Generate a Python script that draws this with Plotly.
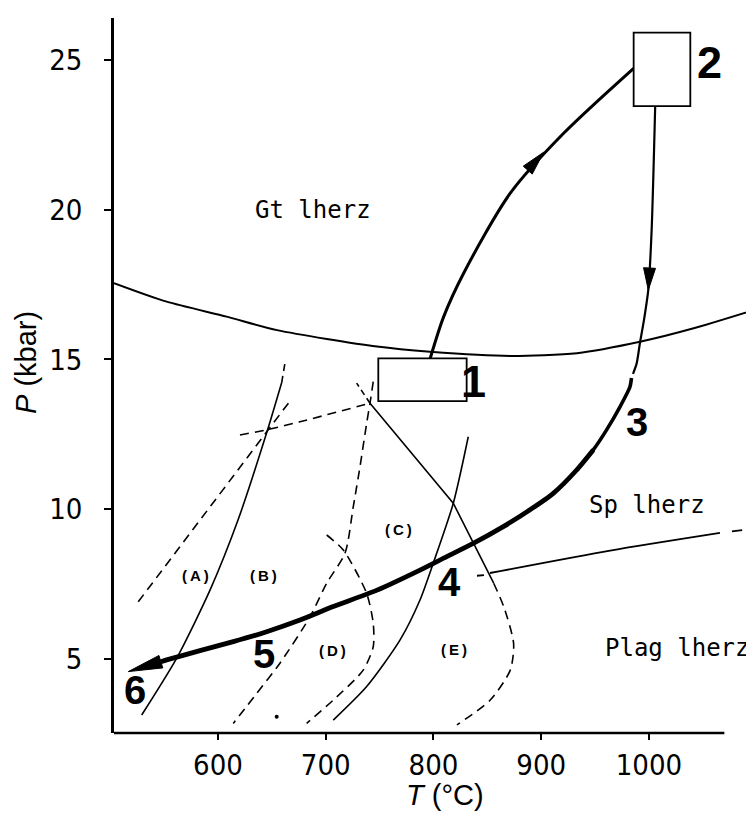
import plotly.graph_objects as go

# ---------------- data ----------------
# phase boundaries between lherzolite facies
gt_sp_T = [503.5, 552.4, 608.1, 654.8, 747.6, 796.8, 871.0, 933.2, 991.6, 1041.5, 1097.5]
gt_sp_P = [17.55, 16.93, 16.43, 15.98, 15.43, 15.26, 15.12, 15.21, 15.59, 16.04, 16.65]

sp_pl_T = [852.4, 964.0, 1065.9]
sp_pl_P = [7.87, 8.62, 9.21]
sp_pl_dash_left_T = [840.4, 846.9]
sp_pl_dash_left_P = [7.78, 7.80]
sp_pl_dash_right_T = [1077.0, 1086.5]
sp_pl_dash_right_P = [9.26, 9.30]

# reaction curves (solid = stable, dashed = other)
ab_solid_T = [529.2, 561.7, 592.6, 618.6, 645.2, 659.1]
ab_solid_P = [3.13, 5.03, 7.30, 9.64, 12.55, 14.22]
ab_ext_T = [659.1, 662.5]
ab_ext_P = [14.22, 14.95]

a_dash_T = [526.0, 583.3, 666.8]
a_dash_P = [6.91, 9.64, 13.61]

top_dash_T = [620.4, 645.2, 676.1, 741.1]
top_dash_P = [12.48, 12.65, 12.92, 13.54]

ce_solid_T = [741.1, 818.4, 855.9]
ce_solid_P = [13.54, 10.20, 7.53]
ce_ext_T = [741.1, 728.7]
ce_ext_P = [13.54, 14.21]

e_dash_T = [855.9, 865.2, 874.4, 871.3, 852.7, 821.8]
e_dash_P = [7.53, 6.75, 5.52, 4.63, 3.63, 2.80]

c_dash_T = [744.1, 741.1, 738.0, 731.8, 725.6, 717.9, 700.9, 685.4, 657.5, 635.9, 614.2]
c_dash_P = [14.26, 13.54, 12.87, 11.42, 10.09, 8.53, 7.53, 6.41, 4.86, 3.85, 2.85]

d_dash_T = [700.9, 716.3, 738.0, 744.1, 744.1, 734.8, 707.0, 682.3]
d_dash_P = [9.14, 8.64, 7.19, 6.19, 5.41, 4.63, 3.63, 2.85]

de_solid_T = [707.0, 738.0, 768.9, 787.5, 799.8, 818.4, 832.3]
de_solid_P = [2.96, 4.08, 5.63, 6.97, 8.20, 10.20, 12.42]

dot_T = [654.5]
dot_P = [3.07]

# P-T path 1 -> 2 -> 3 -> 4 -> 5 -> 6
path_up_T = [797.0, 809.5, 828.0, 871.3, 920.8, 985.8]
path_up_P = [15.04, 16.43, 17.88, 20.55, 22.55, 24.72]
path_down_T = [1005.8, 1002.5, 999.4, 995.4, 991.6, 988.6, 985.2]
path_down_P = [23.46, 19.32, 17.32, 16.32, 15.54, 14.87, 14.52]
path_main_T = [983.8, 982.4, 973.1, 960.7, 948.3, 932.9, 911.2, 889.6, 864.8, 836.9,
               812.3, 787.5, 747.6, 707.0, 676.1, 645.2, 614.2, 583.3, 552.4]
path_main_P = [14.38, 14.09, 13.42, 12.65, 11.98, 11.31, 10.53, 9.98, 9.42, 8.86,
               8.42, 7.97, 7.30, 6.75, 6.30, 5.91, 5.58, 5.28, 4.97]
path_end_tip = (516.8, 4.58)

# arrows along the path: (tip T, tip P, back T, back P)
arrow_up = (902.3, 21.92, 885.0, 21.22)
arrow_down = (999.4, 17.32, 1002.5, 19.32)

# boxes (T0, T1, P0, P1)
box1 = (748.8, 830.8, 13.61, 15.04)
box2 = (985.8, 1038.4, 23.46, 25.91)

# labels
stage_labels = ["1", "2", "3", "4", "5", "6"]
stage_T = [837.6, 1056.6, 988.9, 815.3, 642.7, 523.0]
stage_P = [14.25, 24.90, 12.91, 7.57, 5.17, 3.96]
stage_size = [45, 45, 40, 40, 40, 40]

field_labels = ["(A)", "(B)", "(C)", "(D)", "(E)"]
field_T = [579.1, 642.4, 767.3, 706.3, 819.0]
field_P = [7.80, 7.80, 9.31, 5.27, 5.33]

facies_labels = ["Gt lherz", "Sp lherz", "Plag lherz"]
facies_T = [688.2, 998.6, 1026.9]
facies_P = [20.0, 10.14, 5.37]

x_ticks = [600, 700, 800, 900, 1000]
y_ticks = [5, 10, 15, 20, 25]
x_range = [503.5, 1097.5]
y_range = [2.53, 26.40]
x_axis_end = 1070.0

# ---------------- figure ----------------
W, H = 754, 820
BODY = 8  # default page margin of the html body
ML, MR, MT, MB = 114 - BODY, BODY, 18 - BODY, 87 + BODY
sx = (W - ML - MR) / (x_range[1] - x_range[0])
sy = (H - MT - MB) / (y_range[1] - y_range[0])

fig = go.Figure()


def line(T, P, width=1.6, dash=None, shape="spline", smoothing=0.7):
    fig.add_trace(go.Scatter(
        x=T, y=P, mode="lines", hoverinfo="skip", showlegend=False,
        line=dict(color="black", width=width, dash=dash, shape=shape, smoothing=smoothing)))


def head(tipT, tipP, backT, backP, L, Wd):
    dx = (tipT - backT) * sx
    dy = (tipP - backP) * sy
    n = (dx * dx + dy * dy) ** 0.5
    ux, uy = dx / n, dy / n
    bx, by = -L * ux, -L * uy
    px, py = -uy * Wd, ux * Wd
    Ts = [tipT, tipT + (bx + px) / sx, tipT + (bx - px) / sx, tipT]
    Ps = [tipP, tipP + (by + py) / sy, tipP + (by - py) / sy, tipP]
    fig.add_trace(go.Scatter(x=Ts, y=Ps, mode="lines", fill="toself",
                             fillcolor="black", line=dict(color="black", width=1),
                             hoverinfo="skip", showlegend=False))
    return tipT + bx / sx, tipP + by / sy


DASH = "9px,6px"
line(gt_sp_T, gt_sp_P, 2.0)
line(sp_pl_T, sp_pl_P, 1.9)
line(sp_pl_dash_left_T, sp_pl_dash_left_P, 1.8, shape="linear")
line(sp_pl_dash_right_T, sp_pl_dash_right_P, 1.8, shape="linear")

line(ab_solid_T, ab_solid_P, 1.6)
line(ab_ext_T, ab_ext_P, 1.6, "7px,5px", "linear")
line(a_dash_T, a_dash_P, 1.6, DASH, "linear")
line(top_dash_T, top_dash_P, 1.6, DASH)
line(ce_solid_T, ce_solid_P, 1.6, shape="linear")
line(ce_ext_T, ce_ext_P, 1.6, "6px,4px", "linear")
line(e_dash_T, e_dash_P, 1.6, DASH)
line(c_dash_T, c_dash_P, 1.6, DASH)
line(d_dash_T, d_dash_P, 1.6, DASH)
line(de_solid_T, de_solid_P, 1.6)
fig.add_trace(go.Scatter(x=dot_T, y=dot_P, mode="markers", hoverinfo="skip", showlegend=False,
                         marker=dict(color="black", size=4)))

# path
line(path_up_T, path_up_P, 3.0, smoothing=0.8)
line(path_down_T, path_down_P, 2.2)
bT, bP = head(path_end_tip[0], path_end_tip[1], path_main_T[-1], path_main_P[-1], 34, 6.5)
line(path_main_T[:6], path_main_P[:6], 3.6, smoothing=0.6)
line(path_main_T[4:] + [bT], path_main_P[4:] + [bP], 4.8, smoothing=0.6)
head(*arrow_up, 24, 6)
head(*arrow_down, 22, 6)

for (t0, t1, p0, p1) in (box1, box2):
    fig.add_shape(type="rect", x0=t0, x1=t1, y0=p0, y1=p1, xref="x", yref="y",
                  line=dict(color="black", width=1.8), fillcolor="white", layer="above")

# x axis line (ends before the right edge)
fig.add_shape(type="line", xref="x", yref="paper", x0=x_range[0], x1=x_axis_end, y0=0, y1=0,
              line=dict(color="black", width=2.6))

ann = []
for s, t, p, fs in zip(stage_labels, stage_T, stage_P, stage_size):
    ann.append(dict(x=t, y=p, text="<b>" + s + "</b>", showarrow=False, xanchor="center",
                    yanchor="middle",
                    font=dict(family="Liberation Sans, Arial, sans-serif", size=fs, color="black"),
                    xref="x", yref="y"))
for s, t, p in zip(field_labels, field_T, field_P):
    txt = s[0] + "\u2009" + s[1] + "\u2009" + s[2]
    ann.append(dict(x=t, y=p, text="<b>" + txt + "</b>", showarrow=False,
                    font=dict(family="Liberation Sans, Arial, sans-serif", size=15, color="black"),
                    xref="x", yref="y"))
for s, t, p in zip(facies_labels, facies_T, facies_P):
    ann.append(dict(x=t, y=p, text=s, showarrow=False,
                    font=dict(family="DejaVu Sans Mono, monospace", size=24, color="black"),
                    xref="x", yref="y"))

ann.append(dict(x=-0.1375, y=0.5175, xref="paper", yref="paper", text="<i>P</i> (kbar)",
                showarrow=False, textangle=-90, xanchor="center", yanchor="middle",
                font=dict(family="Liberation Sans, Arial, sans-serif", size=29, color="black")))
ann.append(dict(x=0.517, y=-0.0867, xref="paper", yref="paper", text="<i>T</i> (°C)",
                showarrow=False, xanchor="center", yanchor="middle",
                font=dict(family="Liberation Sans, Arial, sans-serif", size=29, color="black")))

tickfont = dict(family="Liberation Sans Narrow, DejaVu Sans Condensed, Liberation Sans, sans-serif",
                size=29, color="black")
fig.update_layout(
    width=W, height=H, margin=dict(l=ML, r=MR, t=MT, b=MB, pad=0),
    paper_bgcolor="white", plot_bgcolor="white", showlegend=False,
    annotations=ann,
    xaxis=dict(range=x_range, tickvals=x_ticks, ticks="outside", ticklen=6, tickwidth=2,
               tickcolor="black", showgrid=False, zeroline=False, showline=False,
               tickfont=tickfont, ticklabelstandoff=0),
    yaxis=dict(range=y_range, tickvals=y_ticks, ticks="outside", ticklen=7, tickwidth=2,
               tickcolor="black", showgrid=False, zeroline=False, showline=True,
               linecolor="black", linewidth=2.6, tickfont=tickfont, ticklabelstandoff=16),
)

fig.write_html("out.html", config={"displayModeBar": False})
